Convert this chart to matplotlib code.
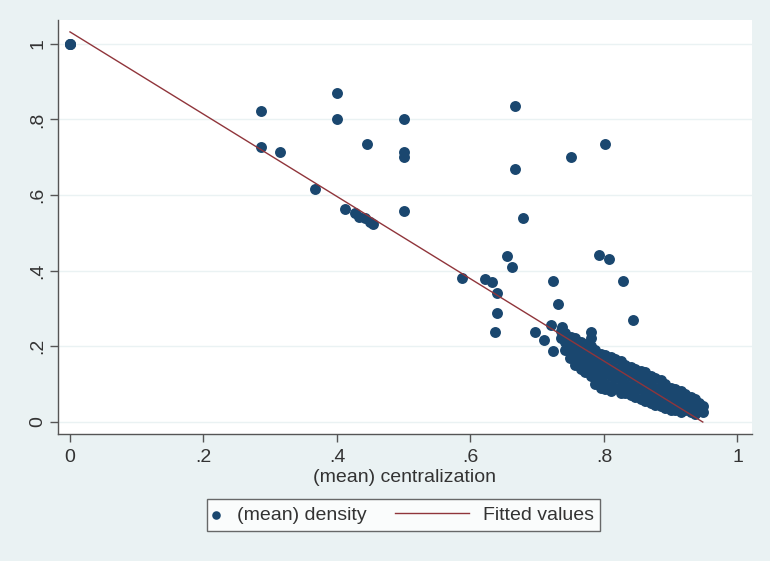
import numpy as np
import matplotlib.pyplot as plt
from matplotlib.lines import Line2D
from matplotlib.legend_handler import HandlerLine2D, HandlerPathCollection

plt.rcParams['font.family'] = ['Liberation Sans', 'DejaVu Sans']

# outlying units, read as (centralization, density)
outlier_x = [0.0, 0.0, 0.0, 0.286, 0.286, 0.314, 0.367, 0.400, 0.400, 0.445,
             0.412, 0.427, 0.433, 0.442, 0.449, 0.454,
             0.500, 0.500, 0.500, 0.500,
             0.587, 0.621, 0.632, 0.640, 0.639, 0.637,
             0.666, 0.667, 0.654, 0.662, 0.678,
             0.696, 0.710, 0.720, 0.723, 0.723, 0.731, 0.737, 0.749,
             0.750, 0.781, 0.792, 0.801, 0.807, 0.828, 0.843]
outlier_y = [1.0, 1.0, 1.0, 0.822, 0.727, 0.714, 0.615, 0.870, 0.801, 0.735,
             0.562, 0.552, 0.541, 0.538, 0.528, 0.522,
             0.801, 0.714, 0.700, 0.557,
             0.379, 0.377, 0.369, 0.340, 0.287, 0.236,
             0.836, 0.668, 0.438, 0.409, 0.538,
             0.236, 0.215, 0.257, 0.186, 0.371, 0.310, 0.250, 0.167,
             0.700, 0.236, 0.440, 0.735, 0.430, 0.371, 0.270]

# the dense band of high-centralization units, column by column
band = {
    0.735: [0.24, 0.22],
    0.742: [0.235, 0.21, 0.19],
    0.750: [0.225, 0.20, 0.175],
    0.757: [0.22, 0.195, 0.17, 0.15],
    0.765: [0.21, 0.185, 0.16, 0.14],
    0.772: [0.205, 0.18, 0.155, 0.13],
    0.780: [0.22, 0.20, 0.17, 0.145, 0.12],
    0.787: [0.19, 0.165, 0.14, 0.115, 0.10],
    0.795: [0.18, 0.155, 0.13, 0.11, 0.09],
    0.802: [0.175, 0.15, 0.125, 0.10, 0.085],
    0.810: [0.17, 0.145, 0.12, 0.095, 0.08],
    0.817: [0.165, 0.14, 0.115, 0.09],
    0.825: [0.16, 0.135, 0.11, 0.085, 0.075],
    0.832: [0.15, 0.125, 0.10, 0.075],
    0.840: [0.145, 0.12, 0.095, 0.07],
    0.847: [0.14, 0.115, 0.09, 0.065],
    0.855: [0.135, 0.11, 0.085, 0.06],
    0.862: [0.13, 0.105, 0.08, 0.055],
    0.870: [0.12, 0.095, 0.07, 0.05],
    0.877: [0.115, 0.09, 0.065, 0.045],
    0.885: [0.11, 0.085, 0.06, 0.04],
    0.892: [0.10, 0.075, 0.05, 0.035],
    0.900: [0.09, 0.07, 0.045, 0.03],
    0.907: [0.085, 0.065, 0.04, 0.03],
    0.915: [0.08, 0.06, 0.04, 0.025],
    0.922: [0.072, 0.05, 0.03],
    0.930: [0.065, 0.045, 0.025],
    0.937: [0.06, 0.04, 0.02],
    0.943: [0.05, 0.03],
    0.948: [0.04, 0.025],
}

# linear fit of density on centralization
fit_intercept = 1.032
fit_slope = -1.09

x_ticks = [0, 0.2, 0.4, 0.6, 0.8, 1.0]
x_labels = ['0', '.2', '.4', '.6', '.8', '1']
y_ticks = [0, 0.2, 0.4, 0.6, 0.8, 1.0]
y_labels = ['0', '.2', '.4', '.6', '.8', '1']

band_x = [x for x, ys in band.items() for _ in ys]
band_y = [y for ys in band.values() for y in ys]
dens_x = np.array(outlier_x + band_x)
dens_y = np.array(outlier_y + band_y)

bg = '#eaf2f3'
navy = '#1a476f'
maroon = '#90353b'
ink = '#333333'
fs = 14


class LeftDot(HandlerPathCollection):
    # keep the key marker at the left end of its slot
    def get_xdata(self, legend, xdescent, ydescent, width, height, fontsize):
        xdata, _ = super().get_xdata(legend, xdescent, ydescent, width,
                                     height, fontsize)
        return xdata, [-xdescent + 0.12 * fontsize]


class LongLine(HandlerLine2D):
    # a long key line reaching back into the column gap
    def create_artists(self, legend, orig_handle, xdescent, ydescent,
                       width, height, fontsize, trans):
        y = (height - ydescent) / 2
        x0 = -xdescent - 3.27 * fontsize
        x1 = -xdescent + 0.49 * fontsize
        line = Line2D([x0, x1], [y, y])
        self.update_prop(line, orig_handle, legend)
        line.set_transform(trans)
        return [line]


fig = plt.figure(figsize=(7.7, 5.61), dpi=100, facecolor=bg)
ax = fig.add_axes([0.0753, 0.2264, 0.9013, 0.738])
ax.set_facecolor('white')

pts = ax.scatter(dens_x, dens_y, s=62, color=navy, linewidths=0, zorder=3,
                 label='(mean) density')
fx = np.array([dens_x.min(), dens_x.max()])
fit_line, = ax.plot(fx, fit_intercept + fit_slope * fx, color=maroon,
                    lw=1.0, zorder=4, label='Fitted values')

ax.set_xlim(-0.018, 1.0217)
ax.set_ylim(-0.033, 1.0636)
ax.set_xticks(x_ticks)
ax.set_xticklabels(x_labels)
ax.set_yticks(y_ticks)
ax.set_yticklabels(y_labels, rotation=90, va='center')
ax.grid(axis='y', color=bg, lw=1.0, zorder=0)
ax.set_axisbelow(True)

for side in ['top', 'right']:
    ax.spines[side].set_visible(False)
for side in ['left', 'bottom']:
    ax.spines[side].set_color('#555555')
    ax.spines[side].set_linewidth(1.0)
ax.tick_params(direction='out', length=5.5, width=1.0, color='#555555',
               labelsize=fs, labelcolor=ink, pad=3)
ax.tick_params(axis='x', pad=5)

ax.set_xlabel('(mean) centralization', fontsize=fs, color=ink, labelpad=2.5)

leg = fig.legend([pts, fit_line], ['(mean) density', 'Fitted values'],
                 loc='center', bbox_to_anchor=(0.524, 0.082), ncol=2,
                 fontsize=fs, frameon=True, fancybox=False,
                 handlelength=0.7, handletextpad=0.51, columnspacing=4.75,
                 borderpad=0.35, scatterpoints=1,
                 handler_map={pts: LeftDot(), fit_line: LongLine()})
leg.get_frame().set_edgecolor('#444444')
leg.get_frame().set_linewidth(1.0)
for t in leg.get_texts():
    t.set_color(ink)
leg.legend_handles[0].set_sizes([38])

fig.savefig('out.png', dpi=100, facecolor=bg)
